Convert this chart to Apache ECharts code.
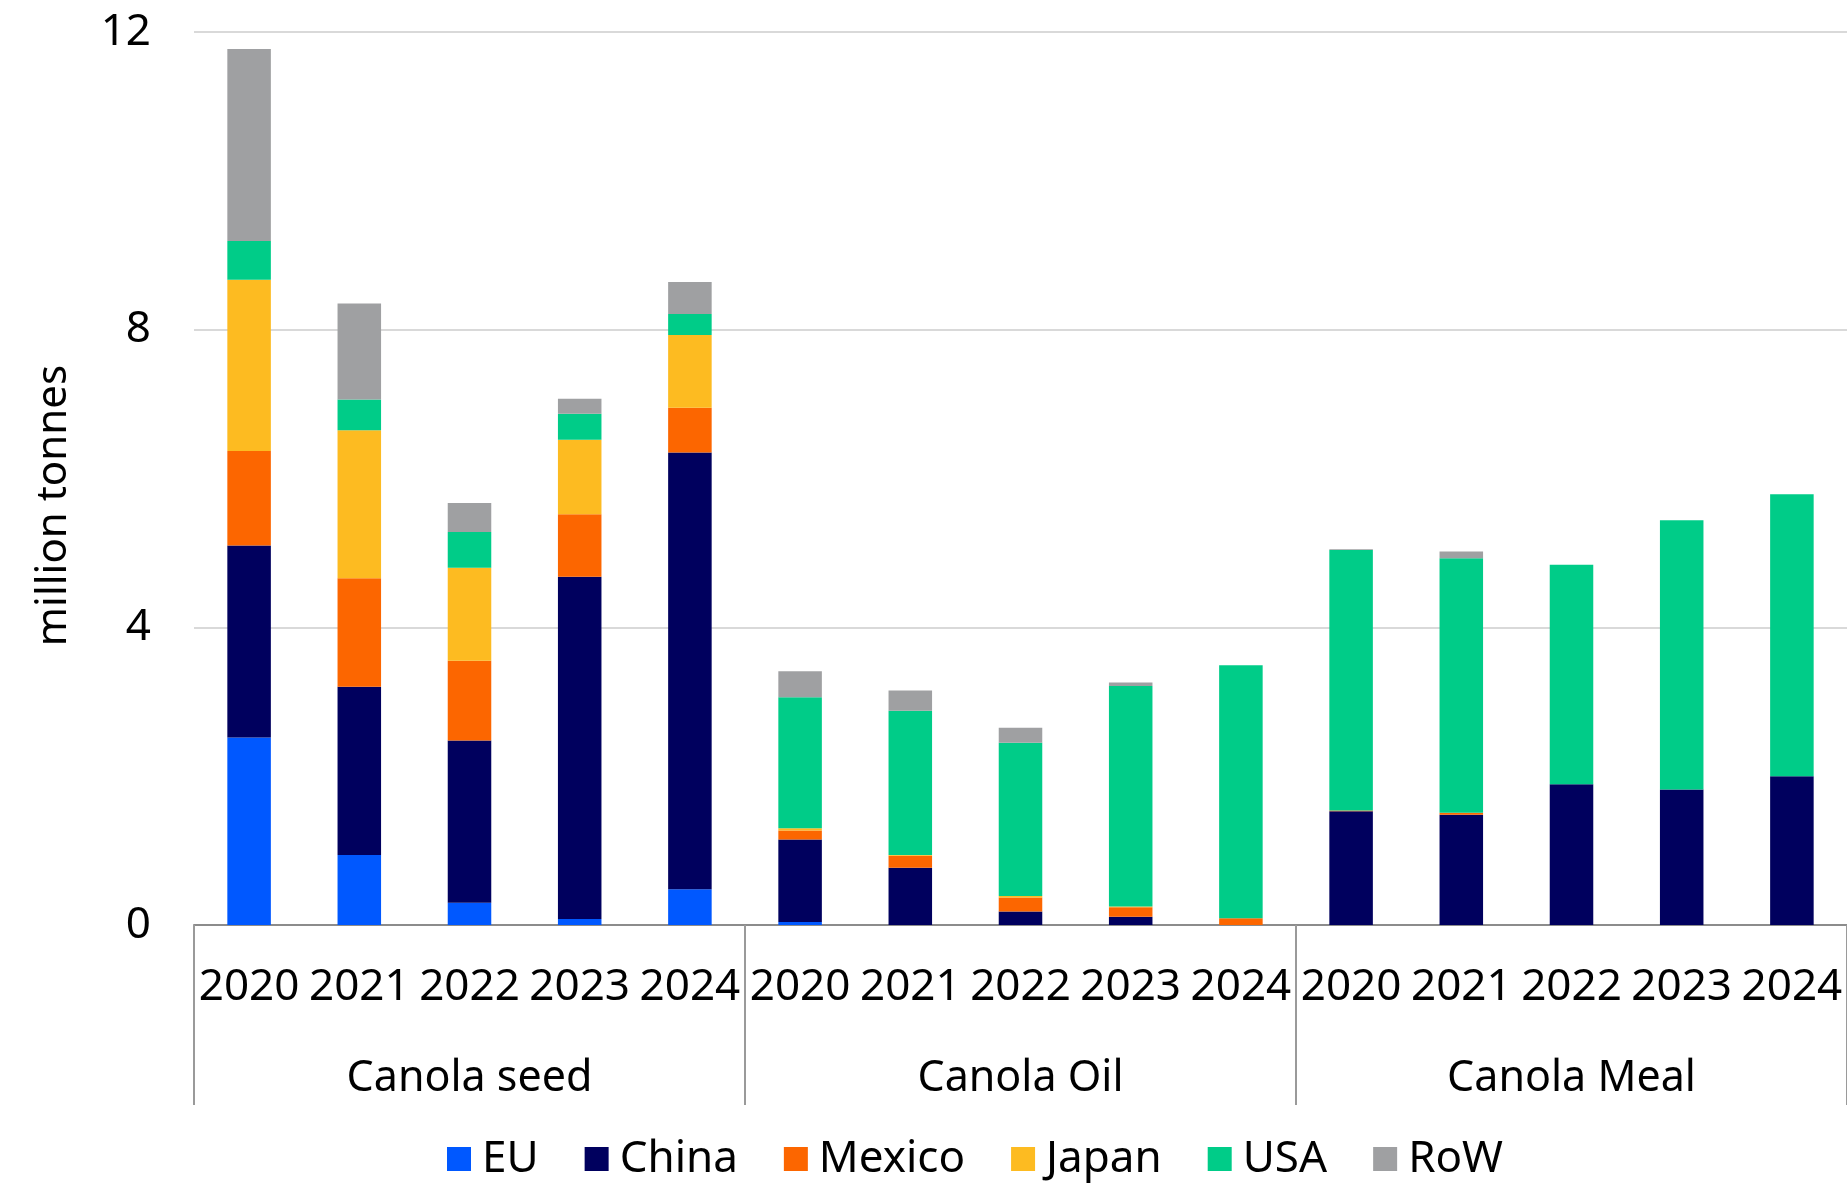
<!DOCTYPE html>
<html>
<head>
<meta charset="utf-8">
<title>Canola exports by destination</title>
<script src="https://cdn.jsdelivr.net/npm/echarts@6/dist/echarts.min.js"></script>
<style>
  html, body { margin: 0; padding: 0; background: #ffffff; }
  #chart { width: 1847px; height: 1183px; }
</style>
</head>
<body>
<div id="chart"></div>
<script>
// Years shown within each product group
const years = ['2020', '2021', '2022', '2023', '2024'];
// Product groups along the bottom axis
const products = ['Canola seed', 'Canola Oil', 'Canola Meal'];
// Y axis ticks (million tonnes)
const yTicks = [0, 4, 8, 12];

// Export volumes by destination, million tonnes
// order: seed 2020-2024, oil 2020-2024, meal 2020-2024
const eu     = [2.52, 0.94, 0.30, 0.08, 0.48,  0.04, 0.00, 0.00, 0.00, 0.00,  0.00, 0.00, 0.00, 0.00, 0.00];
const china  = [2.58, 2.26, 2.18, 4.60, 5.87,  1.11, 0.77, 0.18, 0.11, 0.00,  1.53, 1.48, 1.89, 1.82, 2.00];
const mexico = [1.27, 1.46, 1.07, 0.84, 0.60,  0.12, 0.16, 0.19, 0.13, 0.09,  0.01, 0.03, 0.00, 0.00, 0.00];
const japan  = [2.30, 1.99, 1.25, 1.00, 0.98,  0.03, 0.01, 0.02, 0.01, 0.00,  0.00, 0.00, 0.00, 0.00, 0.00];
const usa    = [0.52, 0.41, 0.48, 0.35, 0.28,  1.76, 1.94, 2.06, 2.96, 3.40,  3.50, 3.42, 2.95, 3.62, 3.79];
const row    = [2.58, 1.29, 0.39, 0.20, 0.43,  0.35, 0.27, 0.20, 0.05, 0.00,  0.01, 0.09, 0.00, 0.00, 0.00];

const seriesDefs = [
  { name: 'EU',     data: eu,     color: '#0058FF' },
  { name: 'China',  data: china,  color: '#00005E' },
  { name: 'Mexico', data: mexico, color: '#FC6600' },
  { name: 'Japan',  data: japan,  color: '#FDBB21' },
  { name: 'USA',    data: usa,    color: '#00CC88' },
  { name: 'RoW',    data: row,    color: '#9FA0A2' }
];

// One category per product/year pair
const categories = [];
products.forEach(p => years.forEach(y => categories.push(p + ' ' + y)));

const FONT = '"Noto Sans", "Open Sans", sans-serif';
const chart = echarts.init(document.getElementById('chart'), null, { renderer: 'canvas' });

chart.setOption({
  animation: false,
  backgroundColor: '#ffffff',
  textStyle: { fontFamily: FONT, color: '#000000' },
  grid: { left: 194, right: 0, top: 32, bottom: 258, containLabel: false },
  legend: {
    left: 442,
    top: 1132,
    icon: 'rect',
    itemWidth: 24,
    itemHeight: 24,
    itemGap: 46,
    textStyle: { fontFamily: FONT, fontSize: 44, color: '#000000', padding: [0, 0, 0, 6] },
    data: seriesDefs.map(s => s.name)
  },
  xAxis: [
    {
      type: 'category',
      data: categories,
      position: 'bottom',
      axisLine: { show: true, lineStyle: { color: '#8c8c8c', width: 2 } },
      axisTick: { show: false },
      axisLabel: {
        interval: 0,
        margin: 40,
        fontFamily: FONT,
        fontSize: 44,
        color: '#000000',
        formatter: v => v.split(' ').pop()
      },
      splitLine: { show: false }
    },
    {
      type: 'category',
      data: products,
      position: 'bottom',
      axisLine: { show: false },
      axisTick: { show: true, length: 180, lineStyle: { color: '#9a9a9a', width: 2 } },
      axisLabel: {
        interval: 0,
        margin: 132,
        fontFamily: FONT,
        fontSize: 43,
        color: '#000000'
      },
      splitLine: { show: false }
    }
  ],
  yAxis: {
    type: 'value',
    min: yTicks[0],
    max: yTicks[yTicks.length - 1],
    interval: yTicks[1] - yTicks[0],
    axisLine: { show: false },
    axisTick: { show: false },
    axisLabel: { margin: 43, fontFamily: FONT, fontSize: 44, color: '#000000' },
    splitLine: { show: true, lineStyle: { color: '#d9d9d9', width: 2 } }
  },
  graphic: [
    {
      type: 'text',
      left: 33,
      top: 365,
      rotation: Math.PI / 2,
      style: {
        text: 'million tonnes',
        fontFamily: FONT,
        fontSize: 42,
        fill: '#000000'
      }
    }
  ],
  series: seriesDefs.map(s => ({
    name: s.name,
    type: 'bar',
    stack: 'total',
    xAxisIndex: 0,
    barWidth: '39.5%',
    itemStyle: { color: s.color },
    emphasis: { disabled: true },
    data: s.data
  }))
});
</script>
</body>
</html>
